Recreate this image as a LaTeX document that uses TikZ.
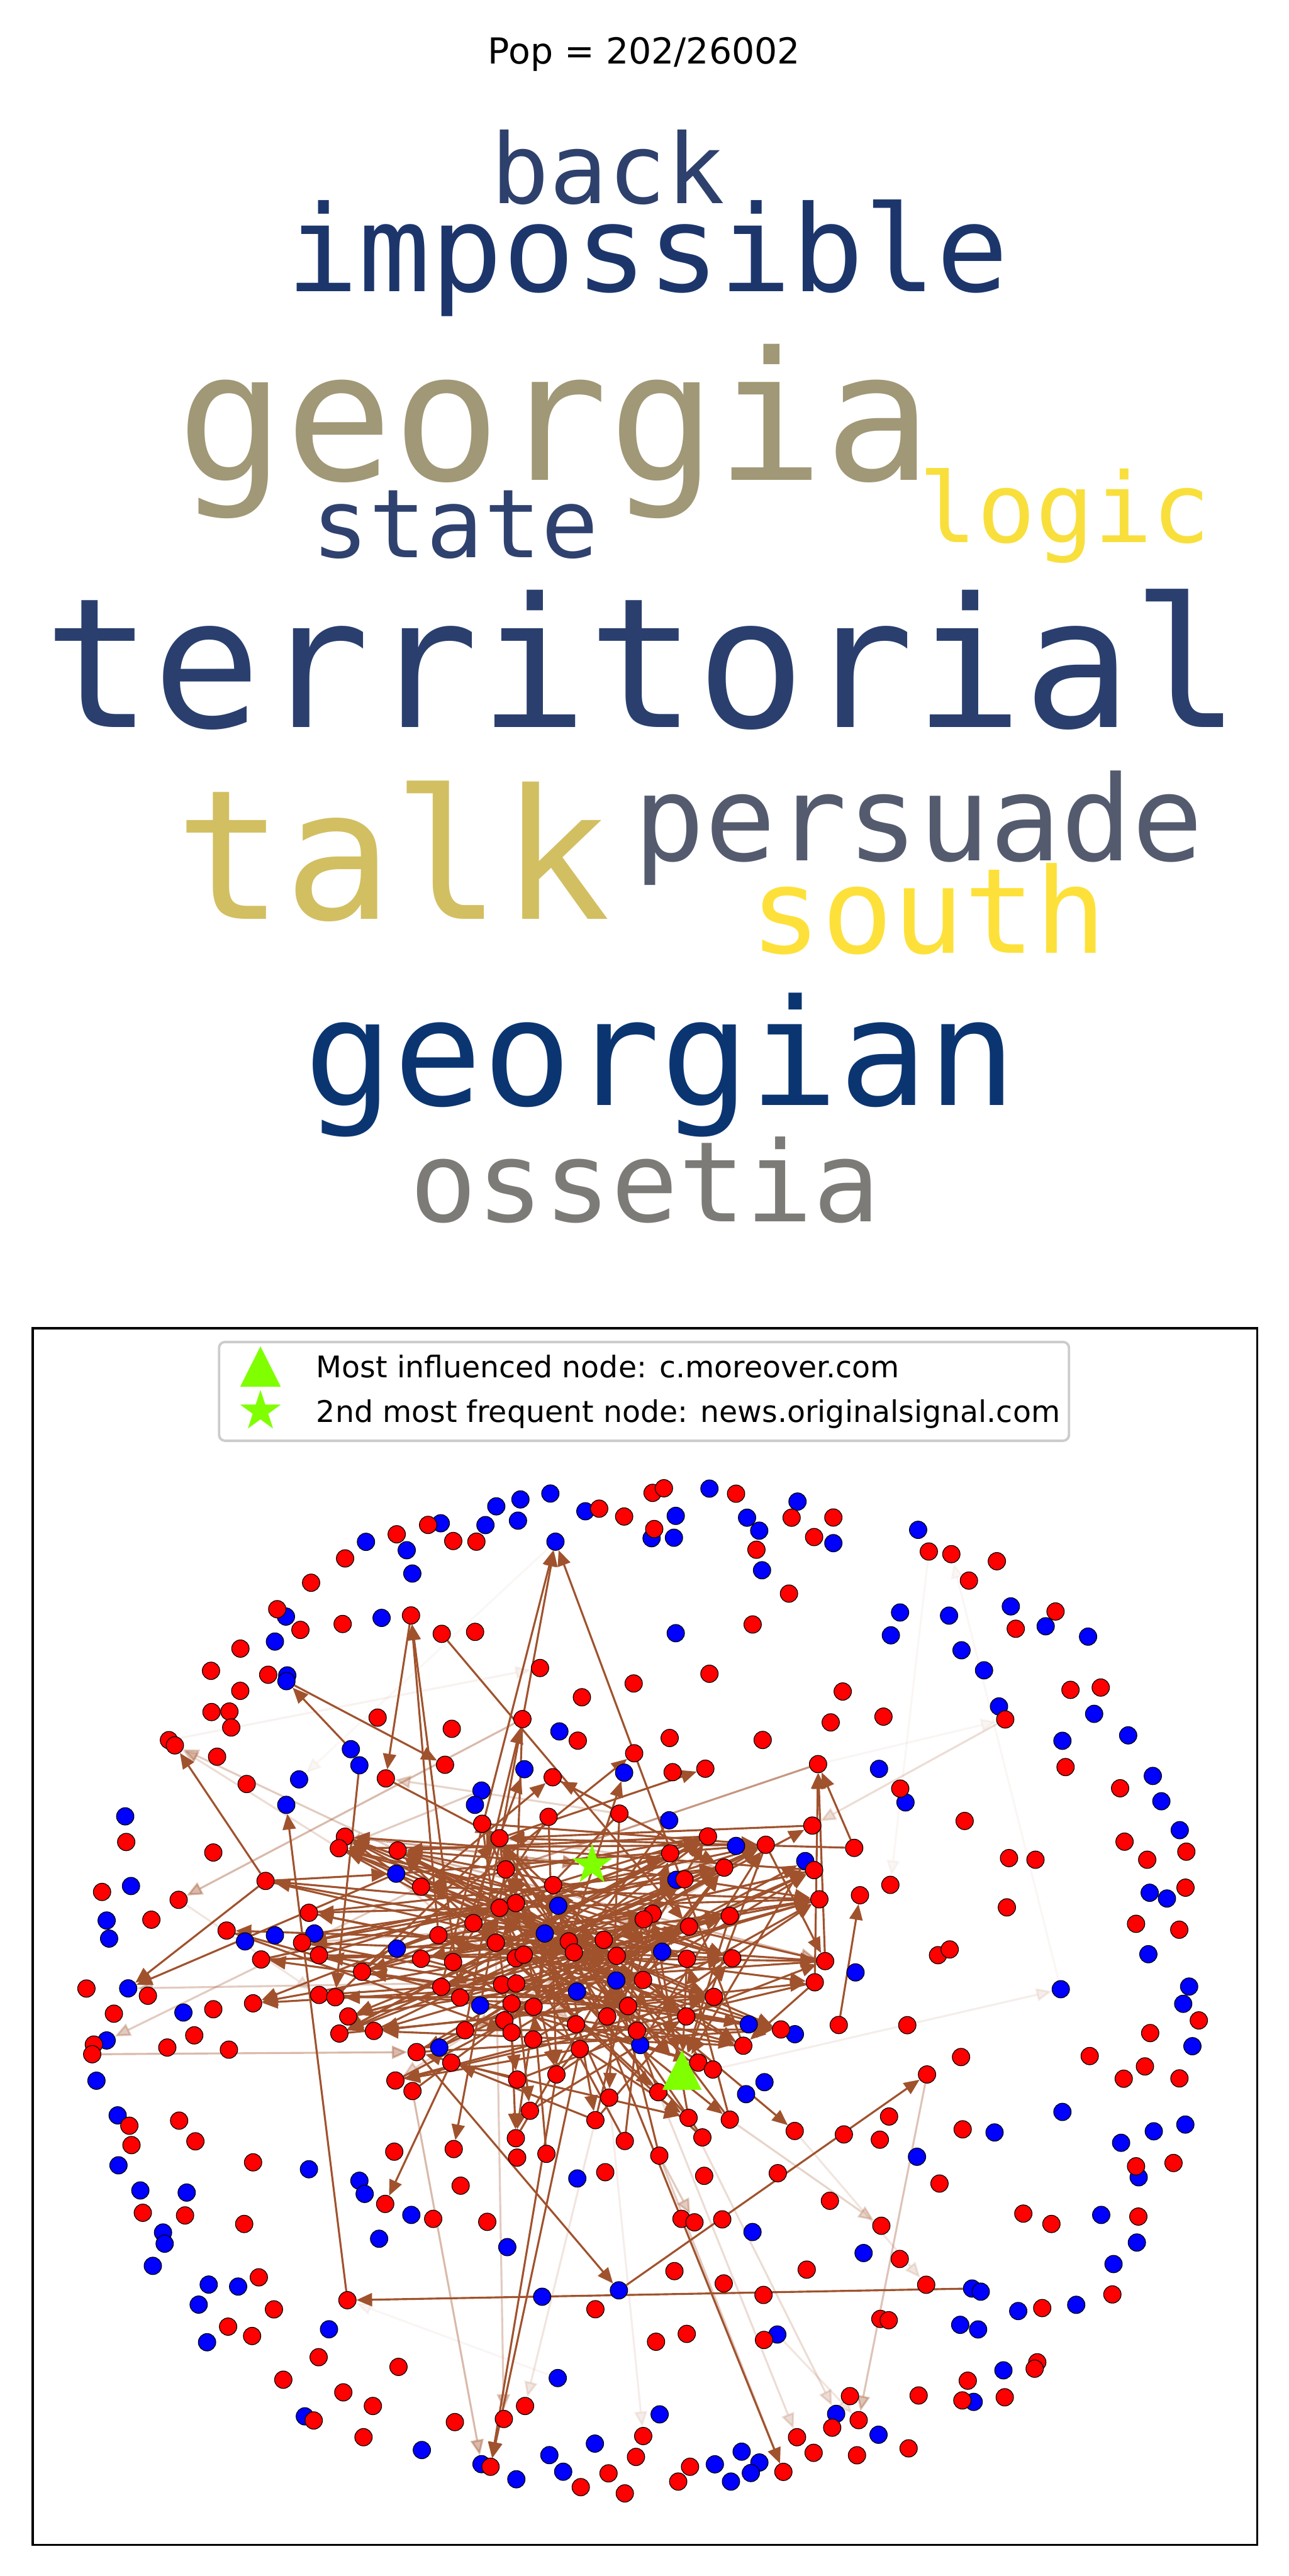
\documentclass[tikz,border=0pt]{standalone}
\usepackage{fontspec}
\setmainfont{DejaVu Sans}
\newfontfamily\cloudfont{DejaVu Sans Mono}
\usetikzlibrary{arrows.meta,shapes.geometric,backgrounds}
\definecolor{edgeclr}{HTML}{A0522D}
\definecolor{inflgreen}{HTML}{7FFF00}
\definecolor{backclr}{HTML}{2E406C}
\definecolor{impossibleclr}{HTML}{1C366C}
\definecolor{georgiaclr}{HTML}{A09876}
\definecolor{stateclr}{HTML}{2F416E}
\definecolor{logicclr}{HTML}{F8DF3C}
\definecolor{territorialclr}{HTML}{2A3F6E}
\definecolor{talkclr}{HTML}{D2BF62}
\definecolor{persuadeclr}{HTML}{555B6E}
\definecolor{southclr}{HTML}{FDE13A}
\definecolor{georgianclr}{HTML}{0B3571}
\definecolor{ossetiaclr}{HTML}{7C7B78}
\tikzset{
  gnode/.style={circle, draw=black, line width=0.45pt, inner sep=0pt, minimum size=10.6pt},
  rnode/.style={gnode, fill=red},
  bnode/.style={gnode, fill=blue},
  link/.style={draw=edgeclr, line width=1.2pt, -{Triangle[length=9.5pt,width=8pt]}},
  word/.style={anchor=base, inner sep=0pt},
  markstar/.style={star, star points=5, star point ratio=2.618, minimum size=26pt, inner sep=0pt, fill=inflgreen},
}
\begin{document}
\begin{tikzpicture}[x=1pt,y=-1pt]
  \useasboundingbox (0,0) rectangle (784,1568);
  \node[anchor=base, font=\fontsize{21.8}{26}\selectfont] (title) at (392,39) {Pop = 202/26002};
  \node[word, text=backclr, font=\cloudfont\fontsize{59}{65}\selectfont] (back) at (370,124) {back};
  \node[word, text=impossibleclr, font=\cloudfont\fontsize{73}{80}\selectfont] (impossible) at (394,177.6) {impossible};
  \node[word, text=georgiaclr, font=\cloudfont\fontsize{109}{120}\selectfont] (georgia) at (337.5,292.2) {georgia};
  \node[word, text=stateclr, font=\cloudfont\fontsize{58}{64}\selectfont] (state) at (277,339.4) {state};
  \node[word, text=logicclr, font=\cloudfont\fontsize{59}{65}\selectfont] (logic) at (648,330.2) {logic};
  \node[word, text=territorialclr, font=\cloudfont\fontsize{110}{120}\selectfont] (territorial) at (391,442.6) {territorial};
  \node[word, text=talkclr, font=\cloudfont\fontsize{110}{120}\selectfont] (talk) at (239,559.5) {talk};
  \node[word, text=persuadeclr, font=\cloudfont\fontsize{72}{80}\selectfont] (persuade) at (559,523.7) {persuade};
  \node[word, text=southclr, font=\cloudfont\fontsize{72}{80}\selectfont] (south) at (565,580.1) {south};
  \node[word, text=georgianclr, font=\cloudfont\fontsize{90}{100}\selectfont] (georgian) at (402,672.7) {georgian};
  \node[word, text=ossetiaclr, font=\cloudfont\fontsize{68}{75}\selectfont] (ossetia) at (392.5,743.7) {ossetia};
  \draw[line width=1.45pt] (20,808.5) rectangle (765,1549);
  \node[bnode] (b268-927) at (268.2,927.2) {};
  \node[bnode] (b223-939) at (222.7,938.5) {};
  \node[bnode] (b248-944) at (247.5,943.6) {};
  \node[bnode] (b251-958) at (250.9,957.8) {};
  \node[bnode] (b174-984) at (174.0,984.0) {};
  \node[bnode] (b232-985) at (232.2,984.8) {};
  \node[bnode] (b167-999) at (167.3,999.2) {};
  \node[bnode] (b175-1020) at (174.8,1019.8) {};
  \node[bnode] (b174-1023) at (174.3,1023.3) {};
  \node[bnode] (b214-1065) at (213.5,1064.7) {};
  \node[bnode] (b219-1075) at (218.7,1074.5) {};
  \node[bnode] (b182-1083) at (182.0,1083.1) {};
  \node[bnode] (b174-1099) at (174.2,1098.6) {};
  \node[bnode] (b295-928) at (295.4,928.3) {};
  \node[bnode] (b302-917) at (302.0,916.9) {};
  \node[bnode] (b317-913) at (316.7,912.7) {};
  \node[bnode] (b315-926) at (315.2,925.6) {};
  \node[bnode] (b335-909) at (334.9,909.1) {};
  \node[bnode] (b338-938) at (338.0,938.4) {};
  \node[bnode] (b356-920) at (356.2,919.9) {};
  \node[bnode] (b411-923) at (411.2,922.7) {};
  \node[bnode] (b397-936) at (396.5,936.3) {};
  \node[bnode] (b410-936) at (410.1,936.0) {};
  \node[bnode] (b432-906) at (431.7,906.1) {};
  \node[bnode] (b455-924) at (454.6,923.8) {};
  \node[bnode] (b462-932) at (462.0,931.7) {};
  \node[bnode] (b464-956) at (463.7,955.8) {};
  \node[bnode] (b485-914) at (485.3,914.0) {};
  \node[bnode] (b411-994) at (411.2,994.1) {};
  \node[bnode] (b340-1054) at (340.4,1053.9) {};
  \node[bnode] (b319-1077) at (319.1,1076.9) {};
  \node[bnode] (b380-1079) at (379.8,1079.0) {};
  \node[bnode] (b293-1090) at (293.0,1089.9) {};
  \node[bnode] (b289-1099) at (289.0,1098.6) {};
  \node[bnode] (b507-939) at (507.1,939.3) {};
  \node[bnode] (b559-931) at (558.7,931.2) {};
  \node[bnode] (b548-982) at (547.7,981.5) {};
  \node[bnode] (b578-983) at (577.5,983.4) {};
  \node[bnode] (b542-995) at (542.1,995.4) {};
  \node[bnode] (b615-978) at (615.1,977.8) {};
  \node[bnode] (b636-990) at (636.3,989.9) {};
  \node[bnode] (b662-996) at (662.1,996.2) {};
  \node[bnode] (b585-1005) at (585.1,1004.5) {};
  \node[bnode] (b599-1017) at (598.8,1016.7) {};
  \node[bnode] (b608-1039) at (607.9,1038.7) {};
  \node[bnode] (b666-1043) at (665.8,1043.2) {};
  \node[bnode] (b687-1056) at (686.5,1056.3) {};
  \node[bnode] (b647-1060) at (646.5,1059.6) {};
  \node[bnode] (b702-1081) at (701.5,1081.0) {};
  \node[bnode] (b707-1096) at (706.7,1096.4) {};
  \node[bnode] (b535-1077) at (534.9,1076.7) {};
  \node[bnode] (b551-1097) at (551.0,1097.1) {};
  \node[bnode] (b407-1108) at (407.2,1108.0) {};
  \node[bnode] (b76-1106) at (76.2,1105.6) {};
  \node[bnode] (b80-1148) at (79.7,1148.0) {};
  \node[bnode] (b65-1169) at (64.9,1169.0) {};
  \node[bnode] (b66-1180) at (66.4,1180.0) {};
  \node[bnode] (b149-1182) at (149.1,1181.7) {};
  \node[bnode] (b167-1178) at (167.3,1178.0) {};
  \node[bnode] (b191-1177) at (191.3,1176.9) {};
  \node[bnode] (b241-1141) at (241.1,1140.5) {};
  \node[bnode] (b242-1186) at (241.5,1186.1) {};
  \node[bnode] (b78-1210) at (78.0,1210.3) {};
  \node[bnode] (b112-1225) at (111.6,1225.0) {};
  \node[bnode] (b65-1242) at (64.9,1242.0) {};
  \node[bnode] (b59-1267) at (58.7,1266.5) {};
  \node[bnode] (b267-1246) at (267.3,1246.3) {};
  \node[bnode] (b72-1288) at (71.6,1287.6) {};
  \node[bnode] (b448-1124) at (447.9,1123.6) {};
  \node[bnode] (b490-1133) at (490.0,1132.8) {};
  \node[bnode] (b412-1144) at (411.6,1144.2) {};
  \node[bnode] (b340-1160) at (339.7,1160.0) {};
  \node[bnode] (b332-1177) at (331.5,1176.9) {};
  \node[bnode] (b403-1188) at (402.9,1188.0) {};
  \node[bnode] (b375-1206) at (375.0,1205.5) {};
  \node[bnode] (b351-1212) at (351.1,1212.2) {};
  \node[bnode] (b292-1221) at (292.2,1220.7) {};
  \node[bnode] (b390-1245) at (389.6,1244.8) {};
  \node[bnode] (b456-1232) at (455.6,1232.2) {};
  \node[bnode] (b484-1238) at (483.7,1238.2) {};
  \node[bnode] (b465-1267) at (465.2,1267.4) {};
  \node[bnode] (b454-1275) at (454.0,1274.7) {};
  \node[bnode] (b718-1114) at (717.9,1114.0) {};
  \node[bnode] (b700-1152) at (699.6,1152.1) {};
  \node[bnode] (b710-1156) at (710.1,1155.6) {};
  \node[bnode] (b699-1190) at (698.8,1189.5) {};
  \node[bnode] (b521-1201) at (520.6,1200.6) {};
  \node[bnode] (b646-1211) at (645.5,1210.8) {};
  \node[bnode] (b724-1209) at (723.6,1209.2) {};
  \node[bnode] (b720-1220) at (720.0,1219.7) {};
  \node[bnode] (b726-1246) at (725.6,1245.5) {};
  \node[bnode] (b647-1286) at (646.5,1285.5) {};
  \node[bnode] (b605-1298) at (605.2,1298.0) {};
  \node[bnode] (b702-1297) at (702.1,1297.3) {};
  \node[bnode] (b721-1293) at (721.3,1293.2) {};
  \node[bnode] (b682-1304) at (682.2,1304.3) {};
  \node[bnode] (b558-1313) at (558.0,1312.8) {};
  \node[bnode] (b72-1318) at (72.1,1318.0) {};
  \node[bnode] (b188-1320) at (188.0,1320.4) {};
  \node[bnode] (b85-1333) at (85.4,1333.3) {};
  \node[bnode] (b114-1335) at (113.6,1334.6) {};
  \node[bnode] (b99-1359) at (99.2,1358.9) {};
  \node[bnode] (b100-1366) at (100.2,1365.7) {};
  \node[bnode] (b93-1379) at (93.0,1379.2) {};
  \node[bnode] (b219-1327) at (218.7,1327.4) {};
  \node[bnode] (b222-1335) at (221.9,1335.4) {};
  \node[bnode] (b250-1348) at (250.3,1348.2) {};
  \node[bnode] (b231-1363) at (230.7,1362.7) {};
  \node[bnode] (b127-1391) at (127.0,1390.6) {};
  \node[bnode] (b145-1392) at (144.9,1391.8) {};
  \node[bnode] (b121-1403) at (120.9,1402.8) {};
  \node[bnode] (b126-1426) at (126.0,1425.7) {};
  \node[bnode] (b200-1418) at (200.2,1417.8) {};
  \node[bnode] (b186-1471) at (185.5,1470.8) {};
  \node[bnode] (b257-1491) at (256.7,1491.3) {};
  \node[bnode] (b351-1326) at (351.3,1326.0) {};
  \node[bnode] (b309-1368) at (308.7,1367.8) {};
  \node[bnode] (b458-1359) at (457.9,1358.6) {};
  \node[bnode] (b330-1398) at (329.9,1398.0) {};
  \node[bnode] (b377-1394) at (376.6,1394.1) {};
  \node[bnode] (b473-1421) at (473.0,1421.0) {};
  \node[bnode] (b339-1448) at (339.4,1447.5) {};
  \node[bnode] (b401-1470) at (401.4,1469.6) {};
  \node[bnode] (b362-1487) at (362.0,1487.4) {};
  \node[bnode] (b293-1500) at (293.0,1499.9) {};
  \node[bnode] (b314-1509) at (314.2,1509.1) {};
  \node[bnode] (b334-1494) at (334.3,1494.4) {};
  \node[bnode] (b343-1505) at (342.7,1504.5) {};
  \node[bnode] (b435-1500) at (435.0,1500.0) {};
  \node[bnode] (b451-1492) at (451.3,1492.3) {};
  \node[bnode] (b462-1499) at (462.1,1498.9) {};
  \node[bnode] (b457-1505) at (456.9,1505.3) {};
  \node[bnode] (b445-1511) at (444.8,1510.5) {};
  \node[bnode] (b509-1469) at (508.8,1469.3) {};
  \node[bnode] (b526-1371) at (525.5,1371.4) {};
  \node[bnode] (b592-1393) at (591.5,1393.0) {};
  \node[bnode] (b597-1395) at (596.8,1394.9) {};
  \node[bnode] (b584-1415) at (584.3,1415.1) {};
  \node[bnode] (b595-1418) at (595.2,1417.9) {};
  \node[bnode] (b620-1407) at (619.6,1406.7) {};
  \node[bnode] (b655-1403) at (654.9,1402.9) {};
  \node[bnode] (b678-1378) at (677.6,1378.1) {};
  \node[bnode] (b692-1365) at (691.8,1365.0) {};
  \node[bnode] (b670-1348) at (670.1,1348.2) {};
  \node[bnode] (b693-1325) at (692.9,1325.3) {};
  \node[bnode] (b611-1443) at (610.6,1442.8) {};
  \node[bnode] (b593-1462) at (592.5,1462.0) {};
  \node[bnode] (b535-1482) at (534.6,1482.0) {};
  \node[rnode] (r261-928) at (260.5,928.2) {};
  \node[rnode] (r276-938) at (275.8,938.0) {};
  \node[rnode] (r241-934) at (241.4,933.9) {};
  \node[rnode] (r210-949) at (210.0,948.6) {};
  \node[rnode] (r189-963) at (189.3,963.4) {};
  \node[rnode] (r169-980) at (168.7,979.5) {};
  \node[rnode] (r183-992) at (182.8,992.1) {};
  \node[rnode] (r209-989) at (208.5,988.5) {};
  \node[rnode] (r250-983) at (250.1,983.3) {};
  \node[rnode] (r269-995) at (268.8,994.5) {};
  \node[rnode] (r146-1004) at (146.3,1003.5) {};
  \node[rnode] (r128-1017) at (128.4,1017.0) {};
  \node[rnode] (r163-1019) at (163.2,1019.4) {};
  \node[rnode] (r146-1029) at (146.2,1029.2) {};
  \node[rnode] (r129-1042) at (128.7,1042.1) {};
  \node[rnode] (r140-1042) at (139.6,1041.8) {};
  \node[rnode] (r141-1052) at (140.7,1051.5) {};
  \node[rnode] (r103-1059) at (102.8,1059.2) {};
  \node[rnode] (r106-1062) at (106.4,1062.4) {};
  \node[rnode] (r132-1069) at (132.1,1069.3) {};
  \node[rnode] (r230-1046) at (229.8,1045.5) {};
  \node[rnode] (r275-1052) at (274.9,1052.3) {};
  \node[rnode] (r271-1074) at (270.8,1074.2) {};
  \node[rnode] (r235-1083) at (234.8,1082.5) {};
  \node[rnode] (r150-1086) at (150.1,1085.9) {};
  \node[rnode] (r290-938) at (289.9,938.4) {};
  \node[rnode] (r365-918) at (364.6,918.3) {};
  \node[rnode] (r380-923) at (379.8,923.1) {};
  \node[rnode] (r397-909) at (397.1,908.7) {};
  \node[rnode] (r404-906) at (404.0,905.9) {};
  \node[rnode] (r398-931) at (398.1,930.7) {};
  \node[rnode] (r448-909) at (447.9,909.2) {};
  \node[rnode] (r460-943) at (460.3,943.3) {};
  \node[rnode] (r482-924) at (481.7,923.8) {};
  \node[rnode] (r495-936) at (495.4,935.6) {};
  \node[rnode] (r480-970) at (480.1,970.0) {};
  \node[rnode] (r458-989) at (458.0,988.8) {};
  \node[rnode] (r432-1019) at (431.7,1018.8) {};
  \node[rnode] (r386-1025) at (385.6,1024.7) {};
  \node[rnode] (r354-1033) at (354.1,1033.1) {};
  \node[rnode] (r329-1015) at (328.6,1015.3) {};
  \node[rnode] (r289-993) at (289.1,993.3) {};
  \node[rnode] (r318-1046) at (317.9,1046.4) {};
  \node[rnode] (r352-1060) at (351.6,1059.5) {};
  \node[rnode] (r408-1058) at (407.5,1057.9) {};
  \node[rnode] (r464-1059) at (464.1,1059.1) {};
  \node[rnode] (r505-1048) at (505.5,1048.4) {};
  \node[rnode] (r386-1067) at (385.9,1067.2) {};
  \node[rnode] (r336-1082) at (336.3,1081.8) {};
  \node[rnode] (r409-1079) at (409.3,1078.7) {};
  \node[rnode] (r429-1077) at (429.2,1076.6) {};
  \node[rnode] (r498-1074) at (497.8,1073.8) {};
  \node[rnode] (r377-1104) at (376.9,1103.9) {};
  \node[rnode] (r507-924) at (507.1,923.7) {};
  \node[rnode] (r565-944) at (565.2,944.4) {};
  \node[rnode] (r579-946) at (578.9,946.0) {};
  \node[rnode] (r607-950) at (606.6,950.3) {};
  \node[rnode] (r590-962) at (589.6,962.1) {};
  \node[rnode] (r642-981) at (642.3,980.9) {};
  \node[rnode] (r618-991) at (618.1,991.4) {};
  \node[rnode] (r651-1029) at (651.4,1028.6) {};
  \node[rnode] (r670-1027) at (669.8,1027.2) {};
  \node[rnode] (r612-1047) at (611.7,1046.6) {};
  \node[rnode] (r648-1076) at (648.4,1075.6) {};
  \node[rnode] (r682-1089) at (681.6,1088.5) {};
  \node[rnode] (r513-1030) at (512.8,1029.6) {};
  \node[rnode] (r538-1045) at (537.6,1044.9) {};
  \node[rnode] (r548-1089) at (547.8,1088.7) {};
  \node[rnode] (r77-1121) at (76.8,1121.2) {};
  \node[rnode] (r130-1128) at (129.8,1127.6) {};
  \node[rnode] (r62-1152) at (62.1,1151.6) {};
  \node[rnode] (r109-1156) at (108.7,1156.4) {};
  \node[rnode] (r92-1169) at (92.1,1168.5) {};
  \node[rnode] (r162-1145) at (161.6,1144.9) {};
  \node[rnode] (r138-1175) at (137.9,1175.1) {};
  \node[rnode] (r159-1193) at (158.9,1192.7) {};
  \node[rnode] (r188-1164) at (188.0,1164.3) {};
  \node[rnode] (r184-1183) at (183.8,1182.5) {};
  \node[rnode] (r194-1190) at (194.1,1190.1) {};
  \node[rnode] (r210-1118) at (209.9,1118.0) {};
  \node[rnode] (r206-1125) at (206.2,1125.0) {};
  \node[rnode] (r242-1126) at (242.0,1126.4) {};
  \node[rnode] (r256-1148) at (256.2,1148.4) {};
  \node[rnode] (r267-1178) at (266.8,1177.9) {};
  \node[rnode] (r256-1192) at (256.2,1192.3) {};
  \node[rnode] (r220-1200) at (220.3,1200.2) {};
  \node[rnode] (r269-1209) at (268.5,1209.4) {};
  \node[rnode] (r194-1214) at (194.2,1214.3) {};
  \node[rnode] (r204-1216) at (204.0,1215.7) {};
  \node[rnode] (r212-1227) at (211.9,1227.4) {};
  \node[rnode] (r207-1238) at (206.5,1237.8) {};
  \node[rnode] (r228-1236) at (227.5,1236.2) {};
  \node[rnode] (r53-1210) at (52.6,1210.4) {};
  \node[rnode] (r90-1215) at (90.0,1214.8) {};
  \node[rnode] (r69-1226) at (69.3,1225.7) {};
  \node[rnode] (r130-1223) at (129.8,1223.0) {};
  \node[rnode] (r154-1219) at (154.0,1219.4) {};
  \node[rnode] (r118-1239) at (118.2,1238.9) {};
  \node[rnode] (r102-1246) at (101.8,1246.3) {};
  \node[rnode] (r139-1248) at (139.3,1247.6) {};
  \node[rnode] (r57-1245) at (57.1,1244.5) {};
  \node[rnode] (r56-1250) at (56.1,1250.4) {};
  \node[rnode] (r254-1249) at (253.5,1249.1) {};
  \node[rnode] (r241-1266) at (240.6,1266.4) {};
  \node[rnode] (r251-1273) at (251.0,1272.8) {};
  \node[rnode] (r79-1294) at (78.7,1293.9) {};
  \node[rnode] (r80-1306) at (80.0,1305.7) {};
  \node[rnode] (r109-1291) at (109.0,1290.8) {};
  \node[rnode] (r119-1303) at (118.9,1303.4) {};
  \node[rnode] (r240-1310) at (239.9,1309.7) {};
  \node[rnode] (r293-1110) at (293.4,1110.1) {};
  \node[rnode] (r334-1106) at (333.8,1105.9) {};
  \node[rnode] (r494-1111) at (494.3,1111.2) {};
  \node[rnode] (r304-1119) at (304.0,1118.9) {};
  \node[rnode] (r308-1138) at (307.7,1137.9) {};
  \node[rnode] (r431-1118) at (430.8,1117.8) {};
  \node[rnode] (r466-1123) at (466.0,1122.9) {};
  \node[rnode] (r408-1128) at (407.8,1128.1) {};
  \node[rnode] (r441-1137) at (440.7,1136.8) {};
  \node[rnode] (r495-1138) at (495.4,1138.3) {};
  \node[rnode] (r417-1144) at (416.5,1143.9) {};
  \node[rnode] (r337-1147) at (336.6,1147.4) {};
  \node[rnode] (r314-1158) at (313.9,1158.4) {};
  \node[rnode] (r304-1161) at (304.0,1161.3) {};
  \node[rnode] (r288-1171) at (288.1,1170.6) {};
  \node[rnode] (r499-1156) at (498.6,1156.1) {};
  \node[rnode] (r444-1166) at (444.1,1166.2) {};
  \node[rnode] (r397-1165) at (397.1,1164.8) {};
  \node[rnode] (r392-1168) at (391.7,1168.3) {};
  \node[rnode] (r419-1173) at (419.3,1172.7) {};
  \node[rnode] (r346-1182) at (346.1,1181.7) {};
  \node[rnode] (r349-1188) at (349.2,1188.4) {};
  \node[rnode] (r367-1181) at (367.4,1180.8) {};
  \node[rnode] (r302-1183) at (301.7,1182.5) {};
  \node[rnode] (r314-1192) at (313.9,1191.9) {};
  \node[rnode] (r319-1190) at (318.7,1189.8) {};
  \node[rnode] (r276-1194) at (275.7,1194.3) {};
  \node[rnode] (r375-1191) at (375.3,1190.5) {};
  \node[rnode] (r418-1192) at (418.0,1192.3) {};
  \node[rnode] (r446-1192) at (445.6,1192.0) {};
  \node[rnode] (r502-1194) at (502.1,1193.7) {};
  \node[rnode] (r496-1207) at (495.8,1206.6) {};
  \node[rnode] (r391-1205) at (391.3,1205.2) {};
  \node[rnode] (r306-1208) at (305.5,1208.0) {};
  \node[rnode] (r314-1207) at (314.1,1207.3) {};
  \node[rnode] (r280-1216) at (280.0,1215.9) {};
  \node[rnode] (r311-1220) at (311.3,1219.5) {};
  \node[rnode] (r325-1222) at (324.7,1221.5) {};
  \node[rnode] (r382-1221) at (382.2,1221.1) {};
  \node[rnode] (r434-1216) at (434.4,1215.5) {};
  \node[rnode] (r370-1227) at (369.5,1227.4) {};
  \node[rnode] (r418-1227) at (417.6,1227.4) {};
  \node[rnode] (r307-1230) at (306.9,1229.8) {};
  \node[rnode] (r311-1237) at (311.3,1237.1) {};
  \node[rnode] (r283-1236) at (283.0,1235.8) {};
  \node[rnode] (r351-1232) at (350.5,1232.2) {};
  \node[rnode] (r388-1236) at (387.6,1236.1) {};
  \node[rnode] (r324-1241) at (324.4,1241.4) {};
  \node[rnode] (r353-1247) at (352.8,1247.2) {};
  \node[rnode] (r275-1256) at (274.6,1255.5) {};
  \node[rnode] (r475-1235) at (475.2,1235.3) {};
  \node[rnode] (r452-1245) at (452.3,1245.2) {};
  \node[rnode] (r425-1256) at (424.9,1255.5) {};
  \node[rnode] (r434-1260) at (433.8,1259.7) {};
  \node[rnode] (r401-1274) at (400.6,1273.5) {};
  \node[rnode] (r339-1263) at (338.6,1262.7) {};
  \node[rnode] (r315-1266) at (314.7,1265.8) {};
  \node[rnode] (r371-1277) at (370.7,1276.8) {};
  \node[rnode] (r323-1285) at (322.5,1284.8) {};
  \node[rnode] (r362-1291) at (362.3,1290.5) {};
  \node[rnode] (r419-1289) at (419.0,1289.1) {};
  \node[rnode] (r444-1290) at (444.1,1290.2) {};
  \node[rnode] (r484-1297) at (483.6,1297.1) {};
  \node[rnode] (r314-1302) at (313.9,1301.5) {};
  \node[rnode] (r380-1303) at (380.2,1303.2) {};
  \node[rnode] (r427-1301) at (427.4,1301.0) {};
  \node[rnode] (r276-1308) at (276.1,1308.1) {};
  \node[rnode] (r315-1313) at (314.7,1313.3) {};
  \node[rnode] (r333-1311) at (332.5,1311.0) {};
  \node[rnode] (r401-1312) at (401.2,1312.1) {};
  \node[rnode] (r587-1108) at (587.0,1108.4) {};
  \node[rnode] (r520-1125) at (519.8,1124.8) {};
  \node[rnode] (r542-1147) at (541.8,1147.3) {};
  \node[rnode] (r523-1154) at (523.3,1153.6) {};
  \node[rnode] (r614-1131) at (614.0,1131.0) {};
  \node[rnode] (r630-1132) at (630.1,1132.0) {};
  \node[rnode] (r613-1161) at (612.7,1161.0) {};
  \node[rnode] (r684-1121) at (684.3,1121.0) {};
  \node[rnode] (r698-1132) at (698.1,1132.0) {};
  \node[rnode] (r722-1127) at (721.9,1127.1) {};
  \node[rnode] (r721-1149) at (721.4,1149.0) {};
  \node[rnode] (r691-1171) at (691.3,1171.0) {};
  \node[rnode] (r718-1175) at (717.6,1174.6) {};
  \node[rnode] (r571-1190) at (570.8,1190.1) {};
  \node[rnode] (r578-1187) at (577.9,1186.6) {};
  \node[rnode] (r730-1230) at (729.5,1229.8) {};
  \node[rnode] (r510-1233) at (510.4,1232.6) {};
  \node[rnode] (r552-1233) at (552.1,1232.7) {};
  \node[rnode] (r700-1238) at (699.9,1237.5) {};
  \node[rnode] (r663-1252) at (663.1,1251.5) {};
  \node[rnode] (r585-1252) at (584.8,1252.1) {};
  \node[rnode] (r564-1263) at (564.1,1262.7) {};
  \node[rnode] (r697-1258) at (696.7,1257.8) {};
  \node[rnode] (r684-1265) at (683.8,1265.3) {};
  \node[rnode] (r718-1265) at (717.7,1265.1) {};
  \node[rnode] (r541-1288) at (541.0,1288.3) {};
  \node[rnode] (r514-1299) at (513.5,1299.2) {};
  \node[rnode] (r535-1302) at (535.4,1302.4) {};
  \node[rnode] (r586-1296) at (585.8,1296.1) {};
  \node[rnode] (r154-1316) at (154.0,1316.2) {};
  \node[rnode] (r87-1347) at (86.9,1346.9) {};
  \node[rnode] (r113-1349) at (112.6,1348.5) {};
  \node[rnode] (r149-1354) at (148.6,1353.7) {};
  \node[rnode] (r234-1342) at (234.4,1341.5) {};
  \node[rnode] (r264-1351) at (263.6,1350.6) {};
  \node[rnode] (r158-1386) at (157.5,1386.2) {};
  \node[rnode] (r167-1406) at (166.7,1405.7) {};
  \node[rnode] (r211-1400) at (211.4,1400.1) {};
  \node[rnode] (r139-1416) at (138.8,1416.2) {};
  \node[rnode] (r153-1422) at (153.4,1421.9) {};
  \node[rnode] (r194-1435) at (193.9,1434.8) {};
  \node[rnode] (r243-1441) at (242.5,1440.7) {};
  \node[rnode] (r172-1449) at (172.4,1448.5) {};
  \node[rnode] (r209-1456) at (208.9,1456.2) {};
  \node[rnode] (r227-1465) at (226.9,1464.5) {};
  \node[rnode] (r191-1473) at (190.9,1473.3) {};
  \node[rnode] (r221-1484) at (221.2,1483.5) {};
  \node[rnode] (r277-1474) at (276.8,1474.3) {};
  \node[rnode] (r368-1322) at (368.3,1322.2) {};
  \node[rnode] (r280-1330) at (280.3,1330.4) {};
  \node[rnode] (r428-1324) at (428.5,1324.4) {};
  \node[rnode] (r473-1323) at (473.3,1322.8) {};
  \node[rnode] (r505-1340) at (505.0,1339.6) {};
  \node[rnode] (r297-1352) at (296.5,1352.4) {};
  \node[rnode] (r415-1351) at (414.7,1350.6) {};
  \node[rnode] (r423-1353) at (422.6,1352.7) {};
  \node[rnode] (r440-1351) at (439.5,1350.9) {};
  \node[rnode] (r410-1382) at (410.4,1382.4) {};
  \node[rnode] (r440-1390) at (440.4,1389.9) {};
  \node[rnode] (r491-1382) at (490.9,1381.5) {};
  \node[rnode] (r465-1397) at (464.6,1396.9) {};
  \node[rnode] (r362-1406) at (362.3,1405.6) {};
  \node[rnode] (r399-1425) at (399.2,1425.4) {};
  \node[rnode] (r418-1421) at (417.9,1420.6) {};
  \node[rnode] (r465-1424) at (464.9,1424.3) {};
  \node[rnode] (r320-1465) at (319.5,1464.5) {};
  \node[rnode] (r307-1472) at (306.6,1472.4) {};
  \node[rnode] (r391-1483) at (391.4,1482.8) {};
  \node[rnode] (r387-1496) at (387.0,1495.5) {};
  \node[rnode] (r299-1502) at (298.5,1501.5) {};
  \node[rnode] (r353-1514) at (353.4,1513.9) {};
  \node[rnode] (r370-1506) at (370.3,1505.5) {};
  \node[rnode] (r380-1518) at (380.2,1517.7) {};
  \node[rnode] (r420-1502) at (419.9,1501.5) {};
  \node[rnode] (r413-1511) at (412.7,1510.5) {};
  \node[rnode] (r477-1505) at (476.7,1504.6) {};
  \node[rnode] (r485-1484) at (485.0,1483.5) {};
  \node[rnode] (r495-1493) at (495.1,1493.0) {};
  \node[rnode] (r506-1478) at (506.4,1477.7) {};
  \node[rnode] (r572-1329) at (571.7,1329.1) {};
  \node[rnode] (r536-1355) at (536.3,1354.8) {};
  \node[rnode] (r548-1375) at (547.5,1375.0) {};
  \node[rnode] (r564-1391) at (563.6,1390.7) {};
  \node[rnode] (r536-1412) at (535.7,1411.5) {};
  \node[rnode] (r541-1412) at (540.8,1412.3) {};
  \node[rnode] (r634-1405) at (634.2,1404.9) {};
  \node[rnode] (r677-1397) at (676.9,1396.6) {};
  \node[rnode] (r693-1349) at (692.7,1349.2) {};
  \node[rnode] (r640-1354) at (639.8,1353.7) {};
  \node[rnode] (r623-1347) at (622.7,1347.4) {};
  \node[rnode] (r691-1319) at (691.3,1318.6) {};
  \node[rnode] (r714-1317) at (714.1,1316.6) {};
  \node[rnode] (r631-1438) at (631.2,1437.9) {};
  \node[rnode] (r630-1442) at (629.6,1441.8) {};
  \node[rnode] (r589-1449) at (588.9,1449.1) {};
  \node[rnode] (r517-1459) at (517.2,1458.5) {};
  \node[rnode] (r559-1458) at (559.0,1458.1) {};
  \node[rnode] (r586-1461) at (585.6,1461.1) {};
  \node[rnode] (r611-1459) at (611.4,1459.2) {};
  \node[rnode] (r523-1473) at (522.5,1473.1) {};
  \node[rnode] (r553-1490) at (552.9,1490.3) {};
  \node[rnode] (r522-1495) at (521.5,1494.5) {};
  \node[circle, minimum size=22pt, inner sep=0pt] (moreover) at (415,1260) {};
  \fill[inflgreen] (415,1248) -- (403.1,1272) -- (426.9,1272) -- cycle;
  \node[markstar] (origsignal) at (360.3,1135.2) {};
  \begin{pgfonlayer}{background}
    \draw[link] (r267-1178) -- (r250-983);
    \draw[link] (r280-1216) -- (r250-983);
    \draw[link] (r250-983) -- (r235-1083);
    \draw[link] (r269-995) -- (r419-1173);
    \draw[link] (b174-1023) -- (r271-1074);
    \draw[link] (b214-1065) -- (b174-1023);
    \draw[link] (r162-1145) -- (r106-1062);
    \draw[link, opacity=0.25] (r377-1104) -- (r235-1083);
    \draw[link, opacity=0.05] (b338-938) -- (b182-1083);
    \draw[link] (r269-1209) -- (b338-938);
    \draw[link] (r283-1236) -- (b338-938);
    \draw[link] (r452-1245) -- (b338-938);
    \draw[link] (r336-1082) -- (r441-1137);
    \draw[link, opacity=0.6] (r498-1074) -- (r308-1138);
    \draw[link] (r496-1207) -- (r498-1074);
    \draw[link] (r502-1194) -- (r498-1074);
    \draw[link, opacity=0.05] (b646-1211) -- (r579-946);
    \draw[link, opacity=0.05] (r565-944) -- (r542-1147);
    \draw[link, opacity=0.06] (r498-1074) -- (r612-1047);
    \draw[link, opacity=0.2] (r612-1047) -- (r494-1111);
    \draw[link] (r162-1145) -- (b78-1210);
    \draw[link] (b241-1141) -- (b78-1210);
    \draw[link, opacity=0.3] (r391-1205) -- (b78-1210);
    \draw[link, opacity=0.3] (r256-1148) -- (b65-1242);
    \draw[link, opacity=0.4] (r56-1250) -- (r254-1249);
    \draw[link, opacity=0.4] (r251-1273) -- (b293-1500);
    \draw[link] (r275-1256) -- (r234-1342);
    \draw[link] (r211-1400) -- (b174-1099);
    \draw[link] (b592-1393) -- (r211-1400);
    \draw[link] (r254-1249) -- (b377-1394);
    \draw[link] (b377-1394) -- (r564-1263);
    \draw[link] (r339-1263) -- (r299-1502);
    \draw[link] (r353-1247) -- (r299-1502);
    \draw[link, opacity=0.3] (r302-1183) -- (r307-1472);
    \draw[link] (r349-1188) -- (r477-1505);
    \draw[link, opacity=0.2] (r419-1289) -- (b509-1469);
    \draw[link, opacity=0.3] (r401-1312) -- (r477-1505);
    \draw[link, opacity=0.1] (r371-1277) -- (r391-1483);
    \draw[link, opacity=0.35] (r564-1263) -- (r523-1473);
    \draw[link, opacity=0.1] (r434-1260) -- (b646-1211);
    \draw[link] (r510-1233) -- (r523-1154);
    \draw[link] (r520-1125) -- (r498-1074);
    \draw[link, opacity=0.15] (r484-1297) -- (r564-1391);
    \draw[link] (r520-1125) -- (r304-1119);
    \draw[link, opacity=0.4] (r318-1046) -- (r109-1156);
    \draw[link] (b219-1075) -- (r204-1216);
    \draw[link] (r235-1083) -- (r304-1119);
    \draw[link, opacity=0.3] (b293-1090) -- (r206-1125);
    \draw[link, opacity=0.3] (r242-1126) -- (r106-1062);
    \draw[link, opacity=0.2] (r206-1125) -- (r106-1062);
    \draw[link, opacity=0.08] (r103-1059) -- (r329-1015);
    \draw[link] (r318-1046) -- (r314-1158);
    \draw[link] (r288-1171) -- (r318-1046);
    \draw[link] (r276-1194) -- (b319-1077);
    \draw[link] (r466-1123) -- (r502-1194);
    \draw[link] (r496-1207) -- (r452-1245);
    \draw[link] (r162-1145) -- (b241-1141);
    \draw[link, opacity=0.2] (r401-1274) -- (r485-1484);
    \draw[link, opacity=0.25] (r444-1290) -- (r536-1355);
    \draw[link, opacity=0.3] (r401-1312) -- (r423-1353);
    \draw[link, opacity=0.15] (r362-1291) -- (r320-1465);
    \draw[link, opacity=0.15] (b473-1421) -- (r523-1473);
    \draw[link, opacity=0.06] (b339-1448) -- (r211-1400);
    \draw[link, opacity=0.15] (r109-1156) -- (r194-1214);
    \draw[link] (r304-1119) -- (moreover);
    \draw[link] (r392-1168) -- (moreover);
    \draw[link] (r466-1123) -- (moreover);
    \draw[link] (b490-1133) -- (moreover);
    \draw[link] (r346-1182) -- (moreover);
    \draw[link] (r444-1166) -- (moreover);
    \draw[link] (r418-1192) -- (moreover);
    \draw[link] (origsignal) -- (r499-1156);
    \draw[link, opacity=0.5] (r210-1118) -- (origsignal);
    \draw[link] (origsignal) -- (r242-1126);
    \draw[link] (r210-1118) -- (r375-1191);
    \draw[link] (r206-1125) -- (r446-1192);
    \draw[link] (r242-1126) -- (r418-1227);
    \draw[link] (b241-1141) -- (r466-1123);
    \draw[link] (r256-1148) -- (r499-1156);
    \draw[link] (r188-1164) -- (r391-1205);
    \draw[link] (b191-1177) -- (r417-1144);
    \draw[link] (r184-1183) -- (r475-1235);
    \draw[link] (r194-1190) -- (r431-1118);
    \draw[link] (r159-1193) -- (r349-1188);
    \draw[link] (r267-1178) -- (r502-1194);
    \draw[link] (b242-1186) -- (r408-1128);
    \draw[link] (r256-1192) -- (r452-1245);
    \draw[link] (r220-1200) -- (r495-1138);
    \draw[link] (r269-1209) -- (r444-1166);
    \draw[link] (r194-1214) -- (r382-1221);
    \draw[link] (r204-1216) -- (r304-1119);
    \draw[link] (r212-1227) -- (r419-1173);
    \draw[link] (r207-1238) -- (r466-1123);
    \draw[link] (r228-1236) -- (r496-1207);
    \draw[link] (r254-1249) -- (r441-1137);
    \draw[link] (b267-1246) -- (r397-1165);
    \draw[link] (r241-1266) -- (r434-1216);
    \draw[link] (r251-1273) -- (r392-1168);
    \draw[link] (r162-1145) -- (r314-1158);
    \draw[link] (r138-1175) -- (r311-1237);
    \draw[link] (r466-1123) -- (r206-1125);
    \draw[link] (r499-1156) -- (r188-1164);
    \draw[link] (r495-1138) -- (r210-1118);
    \draw[link] (r446-1192) -- (r184-1183);
    \draw[link] (r475-1235) -- (r159-1193);
    \draw[link] (r434-1216) -- (r204-1216);
    \draw[link] (r418-1227) -- (r220-1200);
    \draw[link] (r502-1194) -- (r194-1214);
    \draw[link] (r444-1166) -- (r242-1126);
    \draw[link] (r431-1118) -- (r256-1148);
    \draw[link] (r417-1144) -- (r212-1227);
    \draw[link] (r408-1128) -- (r207-1238);
    \draw[link] (r452-1245) -- (r228-1236);
    \draw[link] (r441-1137) -- (r269-1209);
    \draw[link] (b456-1232) -- (r194-1190);
    \draw[link] (r425-1256) -- (r138-1175);
    \draw[link] (r293-1110) -- (r315-1266);
    \draw[link] (r304-1119) -- (r323-1285);
    \draw[link] (r334-1106) -- (r339-1263);
    \draw[link] (r377-1104) -- (r371-1277);
    \draw[link] (r337-1147) -- (r314-1302);
    \draw[link] (b340-1160) -- (r362-1291);
    \draw[link] (r308-1138) -- (r276-1308);
    \draw[link] (r401-1274) -- (r367-1181);
    \draw[link] (r419-1289) -- (r397-1165);
    \draw[link] (r427-1301) -- (r346-1182);
    \draw[link] (r444-1290) -- (r418-1192);
    \draw[link] (r380-1303) -- (r304-1161);
    \draw[link] (r362-1291) -- (r392-1168);
    \draw[link] (r311-1237) -- (r314-1302);
    \draw[link] (r333-1311) -- (r325-1222);
    \draw[link] (r401-1312) -- (b375-1206);
    \draw[link] (r288-1171) -- (r434-1260);
    \draw[link] (r302-1183) -- (r401-1274);
    \draw[link] (r319-1190) -- (r444-1290);
    \draw[link] (r346-1182) -- (r484-1297);
    \draw[link] (r276-1194) -- (r419-1289);
    \draw[link] (r275-1256) -- (r419-1289);
    \draw[link] (r306-1208) -- (b456-1232);
    \draw[link] (r314-1207) -- (r499-1156);
    \draw[link] (r280-1216) -- (r466-1123);
    \draw[link] (b292-1221) -- (r452-1245);
    \draw[link] (r311-1220) -- (r425-1256);
    \draw[link] (r325-1222) -- (b490-1133);
    \draw[link] (r382-1221) -- (r499-1156);
    \draw[link] (r370-1227) -- (r441-1137);
    \draw[link] (r418-1227) -- (r293-1110);
    \draw[link] (r307-1230) -- (r417-1144);
    \draw[link] (r283-1236) -- (r475-1235);
    \draw[link] (r351-1232) -- (r304-1119);
    \draw[link] (r388-1236) -- (r308-1138);
    \draw[link] (b390-1245) -- (r466-1123);
    \draw[link] (r324-1241) -- (r495-1138);
    \draw[link] (r353-1247) -- (r431-1118);
    \draw[link] (r339-1263) -- (r499-1156);
    \draw[link] (r315-1266) -- (r502-1194);
    \draw[link] (r367-1181) -- (r288-1171);
    \draw[link] (r375-1191) -- (r206-1125);
    \draw[link] (r397-1165) -- (r256-1192);
    \draw[link] (r392-1168) -- (r207-1238);
    \draw[link] (r419-1173) -- (r254-1249);
    \draw[link] (r418-1192) -- (r210-1118);
    \draw[link] (b403-1188) -- (r162-1145);
    \draw[link] (r391-1205) -- (r242-1126);
    \draw[link] (r349-1188) -- (r494-1111);
    \draw[link] (b332-1177) -- (r431-1118);
    \draw[link] (r304-1161) -- (r475-1235);
    \draw[link] (r314-1192) -- (r466-1123);
    \draw[link] (r256-1148) -- (r336-1082);
    \draw[link] (r220-1200) -- (r386-1067);
    \draw[link] (r304-1119) -- (r429-1077);
    \draw[link] (r441-1137) -- (r336-1082);
    \draw[link] (r346-1182) -- (b380-1079);
    \draw[link] (r288-1171) -- (r242-1126);
    \draw[link] (r314-1192) -- (r210-1118);
    \draw[link] (r349-1188) -- (r206-1125);
    \draw[link] (r431-1118) -- (r242-1126);
    \draw[link] (r391-1205) -- (r154-1219);
    \draw[link] (r304-1161) -- (r154-1219);
    \draw[link] (r367-1181) -- (r154-1219);
    \draw[link] (r346-1182) -- (r138-1175);
    \draw[link] (r315-1266) -- (r254-1249);
    \draw[link] (r353-1247) -- (r241-1266);
    \draw[link] (r308-1138) -- (r339-1263);
    \draw[link] (r362-1291) -- (r275-1256);
    \draw[link] (r242-1126) -- (r375-1191);
    \draw[link] (r206-1125) -- (r382-1221);
    \draw[link] (r210-1118) -- (r418-1192);
    \draw[link] (r188-1164) -- (r441-1137);
    \draw[link] (r184-1183) -- (r466-1123);
    \draw[link] (r194-1190) -- (r502-1194);
    \draw[link] (r220-1200) -- (r431-1118);
    \draw[link] (r256-1192) -- (r499-1156);
    \draw[link] (r269-1209) -- (r408-1128);
    \draw[link] (r228-1236) -- (r417-1144);
    \draw[link] (r212-1227) -- (r446-1192);
    \draw[link] (r207-1238) -- (r434-1216);
    \draw[link] (r254-1249) -- (r475-1235);
    \draw[link] (b267-1246) -- (r495-1138);
    \draw[link] (r241-1266) -- (r419-1173);
    \draw[link] (r267-1178) -- (r397-1165);
    \draw[link] (b242-1186) -- (r444-1166);
    \draw[link] (r256-1148) -- (r391-1205);
    \draw[link] (r162-1145) -- (r349-1188);
    \draw[link] (r159-1193) -- (r304-1161);
    \draw[link] (r499-1156) -- (r228-1236);
    \draw[link] (r495-1138) -- (r256-1192);
    \draw[link] (r466-1123) -- (r220-1200);
    \draw[link] (r446-1192) -- (r242-1126);
    \draw[link] (r441-1137) -- (r184-1183);
    \draw[link] (r431-1118) -- (r207-1238);
    \draw[link] (r418-1192) -- (r256-1148);
    \draw[link] (r444-1166) -- (r212-1227);
    \draw[link] (r434-1216) -- (r188-1164);
    \draw[link] (r475-1235) -- (r267-1178);
    \draw[link] (r452-1245) -- (r210-1118);
    \draw[link] (r502-1194) -- (r206-1125);
    \draw[link] (r496-1207) -- (r241-1266);
    \draw[link] (r293-1110) -- (r388-1236);
    \draw[link] (r304-1119) -- (r382-1221);
    \draw[link] (r308-1138) -- (r418-1227);
    \draw[link] (r337-1147) -- (r446-1192);
    \draw[link] (r314-1158) -- (r452-1245);
    \draw[link] (r304-1161) -- (r434-1216);
    \draw[link] (r288-1171) -- (r475-1235);
    \draw[link] (r302-1183) -- (r496-1207);
    \draw[link] (r319-1190) -- (r499-1156);
    \draw[link] (r346-1182) -- (r431-1118);
    \draw[link] (r367-1181) -- (r466-1123);
    \draw[link] (r375-1191) -- (r495-1138);
    \draw[link] (r391-1205) -- (r441-1137);
    \draw[link] (r382-1221) -- (r408-1128);
    \draw[link] (r370-1227) -- (r304-1119);
    \draw[link] (r351-1232) -- (r293-1110);
    \draw[link] (r324-1241) -- (r337-1147);
    \draw[link] (r311-1237) -- (r419-1173);
    \draw[link] (r283-1236) -- (r397-1165);
    \draw[link] (r280-1216) -- (r375-1191);
    \draw[link] (r306-1208) -- (r444-1166);
    \draw[link] (r325-1222) -- (r417-1144);
    \draw[link] (r339-1263) -- (r441-1137);
    \draw[link] (r323-1285) -- (r418-1227);
    \draw[link] (r362-1291) -- (r446-1192);
    \draw[link] (r371-1277) -- (r308-1138);
    \draw[link] (r419-1289) -- (r304-1161);
    \draw[link] (r401-1274) -- (r314-1158);
    \draw[link] (r380-1303) -- (r391-1205);
    \draw[link] (r427-1301) -- (r288-1171);
    \draw[link] (r444-1290) -- (r337-1147);
    \draw[link] (r314-1302) -- (r392-1168);
    \draw[link] (r334-1106) -- (r276-1194);
    \draw[link] (r377-1104) -- (r302-1183);
    \draw[link] (b407-1108) -- (r349-1188);
    \draw[link] (r293-1110) -- (r466-1123);
    \draw[link] (r494-1111) -- (r304-1119);
    \draw[link, opacity=0.3] (r304-1119) -- (r441-1137);
    \draw[link, opacity=0.3] (r256-1148) -- (r434-1216);
    \draw[link, opacity=0.25] (r210-1118) -- (r351-1232);
    \draw[link, opacity=0.3] (r495-1138) -- (r283-1236);
    \draw[link, opacity=0.25] (r466-1123) -- (r241-1266);
    \draw[link, opacity=0.3] (r184-1183) -- (r392-1168);
    \draw[link, opacity=0.4] (r242-1126) -- (r502-1194);
    \draw[link, opacity=0.4] (r425-1256) -- (r304-1161);
  \end{pgfonlayer}
  \node[draw=black!20, line width=1.5pt, fill=white, rounded corners=3.6pt, minimum width=517.2pt, minimum height=60.1pt, inner sep=0pt] (legendbox) at (391.9,846.9) {};
  \fill[inflgreen] (158.5,819.5) -- (146.2,844) -- (170.8,844) -- cycle;
  \node[markstar] (legstar) at (158.5,859) {};
  \node[anchor=base west, inner sep=0pt, font=\fontsize{18.15}{22}\selectfont] (leginfl) at (192.3,838.4) {Most influenced node: c.moreover.com};
  \node[anchor=base west, inner sep=0pt, font=\fontsize{18.15}{22}\selectfont] (legfreq) at (192.3,865.6) {2nd most frequent node: news.originalsignal.com};
\end{tikzpicture}
\end{document}
